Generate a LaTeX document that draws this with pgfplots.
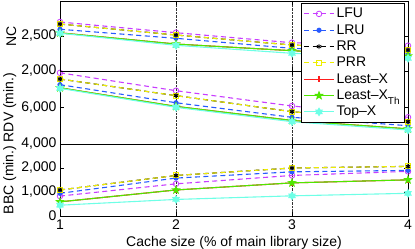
\documentclass[border=0pt]{standalone}
\usepackage{pgfplots}
\pgfplotsset{compat=1.18}
\usepackage{fontspec}
\setmainfont{Liberation Sans}
\definecolor{cLFU}{RGB}{200,60,255}
\definecolor{cLRU}{RGB}{40,90,255}
\definecolor{cPRR}{RGB}{238,238,0}
\definecolor{cLX}{RGB}{255,30,30}
\definecolor{cLXT}{RGB}{80,230,0}
\definecolor{cTX}{RGB}{110,255,230}
\pgfdeclareplotmark{fstar}{%
 \pgfpathmoveto{\pgfpointpolar{90}{\pgfplotmarksize}}%
 \pgfpathlineto{\pgfpointpolar{126}{0.42\pgfplotmarksize}}%
 \pgfpathlineto{\pgfpointpolar{162}{\pgfplotmarksize}}%
 \pgfpathlineto{\pgfpointpolar{198}{0.42\pgfplotmarksize}}%
 \pgfpathlineto{\pgfpointpolar{234}{\pgfplotmarksize}}%
 \pgfpathlineto{\pgfpointpolar{270}{0.42\pgfplotmarksize}}%
 \pgfpathlineto{\pgfpointpolar{306}{\pgfplotmarksize}}%
 \pgfpathlineto{\pgfpointpolar{342}{0.42\pgfplotmarksize}}%
 \pgfpathlineto{\pgfpointpolar{18}{\pgfplotmarksize}}%
 \pgfpathlineto{\pgfpointpolar{54}{0.42\pgfplotmarksize}}%
 \pgfpathclose\pgfusepathqfillstroke}
\pgfdeclareplotmark{fhex}{%
 \pgfpathmoveto{\pgfpointpolar{90}{\pgfplotmarksize}}%
 \pgfpathlineto{\pgfpointpolar{120}{0.58\pgfplotmarksize}}%
 \pgfpathlineto{\pgfpointpolar{150}{\pgfplotmarksize}}%
 \pgfpathlineto{\pgfpointpolar{180}{0.58\pgfplotmarksize}}%
 \pgfpathlineto{\pgfpointpolar{210}{\pgfplotmarksize}}%
 \pgfpathlineto{\pgfpointpolar{240}{0.58\pgfplotmarksize}}%
 \pgfpathlineto{\pgfpointpolar{270}{\pgfplotmarksize}}%
 \pgfpathlineto{\pgfpointpolar{300}{0.58\pgfplotmarksize}}%
 \pgfpathlineto{\pgfpointpolar{330}{\pgfplotmarksize}}%
 \pgfpathlineto{\pgfpointpolar{0}{0.58\pgfplotmarksize}}%
 \pgfpathlineto{\pgfpointpolar{30}{\pgfplotmarksize}}%
 \pgfpathlineto{\pgfpointpolar{60}{0.58\pgfplotmarksize}}%
 \pgfpathclose\pgfusepathqfillstroke}
\pgfplotsset{
  panel/.style={
    width=348pt, scale only axis, xmin=1, xmax=4, xtick={1,2,3,4},
    clip=false,
    font=\fontsize{14}{16}\selectfont,
    xmajorgrids, major grid style={densely dotted, black!80, line width=0.5pt},
    axis line style={line width=0.9pt},
    tick style={black, line width=0.6pt}, major tick length=4pt,
    /pgf/number format/assume math mode=true,
    /pgf/number format/1000 sep={,},
    scaled y ticks=false,
    ylabel style={at={(axis description cs:-0.125,0.5)}, anchor=south, inner sep=0pt},
    legend image code/.code={\draw[mark repeat=2,mark phase=2,##1] plot coordinates {(0pt,0pt) (15pt,0pt) (30pt,0pt)};},
  },
  dsh/.style={line width=1.1pt, dash pattern=on 5pt off 3.5pt},
  sld/.style={line width=1.1pt, solid},
  pLFU/.style={dsh, color=cLFU, mark=o, mark size=2.8pt, mark options={solid, line width=0.8pt}},
  pLRU/.style={dsh, color=cLRU, mark=*, mark size=2pt, mark options={solid}},
  pRR/.style={dsh, color=black, mark=asterisk, mark size=2.5pt, mark options={solid, line width=0.8pt}},
  pPRR/.style={dsh, color=cPRR, mark=square, mark size=2.5pt, mark options={solid, line width=1pt}},
  pLX/.style={sld, color=cLX, mark=+, mark size=3pt},
  pLXT/.style={sld, color=cLXT, mark=fstar, mark size=3.5pt},
  pTX/.style={sld, color=cTX, mark=fhex, mark size=3.5pt},
}
\begin{document}
\begin{tikzpicture}
\path[use as bounding box] (-60pt,-33pt) rectangle (355pt,216pt);
% BBC panel
\begin{axis}[panel, at={(0pt,0pt)}, height=72pt, ymin=0, ymax=3000, ytick={0,1000,2000},
  xlabel={Cache size (\% of main library size)}, ylabel={BBC (min.)}]
\addplot[pLFU] coordinates {(1,830) (2,1340) (3,1690) (4,1860)};
\addplot[pLRU] coordinates {(1,945) (2,1580) (3,1840) (4,1900)};
\addplot[pRR] coordinates {(1,1085) (2,1690) (3,2000) (4,2068)};
\addplot[pPRR] coordinates {(1,1085) (2,1690) (3,2000) (4,2068)};
\addplot[pRR, only marks] coordinates {(1,1085) (2,1690) (3,2000) (4,2068)};
\addplot[pLX] coordinates {(1,590) (2,1085) (3,1380) (4,1506)};
\addplot[pLXT] coordinates {(1,590) (2,1085) (3,1380) (4,1506)};
\addplot[pTX] coordinates {(1,450) (2,690) (3,840) (4,945)};
\end{axis}
% RDV panel
\begin{axis}[panel, at={(0pt,72pt)}, height=73pt, ymin=4000, ymax=8000, ytick={4000,6000},
  xticklabels={}, ylabel={RDV (min.)}]
\addplot[pLFU] coordinates {(1,7900) (2,6920) (3,6083) (4,5463)};
\addplot[pLRU] coordinates {(1,7250) (2,6260) (3,5463) (4,5003)};
\addplot[pRR] coordinates {(1,7560) (2,6650) (3,5770) (4,5222)};
\addplot[pPRR] coordinates {(1,7560) (2,6650) (3,5770) (4,5222)};
\addplot[pRR, only marks] coordinates {(1,7560) (2,6650) (3,5770) (4,5222)};
\addplot[pLX] coordinates {(1,7080) (2,6060) (3,5290) (4,4830)};
\addplot[pLXT] coordinates {(1,7080) (2,6060) (3,5290) (4,4830)};
\addplot[pTX] coordinates {(1,7050) (2,6010) (3,5222) (4,4767)};
\end{axis}
% NC panel
\begin{axis}[panel, at={(0pt,145pt)}, height=70pt, ymin=2000, ymax=3000, ytick={2000,2500},
  xticklabels={}, ylabel={NC},
  legend cell align=left,
  legend style={at={(rel axis cs:0.99,0.965)}, anchor=north east, draw=black, line width=0.8pt,
    font=\fontsize{14}{16}\selectfont, row sep=1.2pt, inner sep=2.5pt,
    /tikz/every even column/.append style={column sep=3pt}}]
\addplot[pLFU] coordinates {(1,2700) (2,2547) (3,2404) (4,2361)};
\addlegendentry{LFU}
\addplot[pLRU] coordinates {(1,2596) (2,2467) (3,2324) (4,2253)};
\addlegendentry{LRU}
\addplot[pRR] coordinates {(1,2671) (2,2514) (3,2371) (4,2300)};
\addlegendentry{RR}
\addplot[pPRR] coordinates {(1,2671) (2,2514) (3,2371) (4,2300)};
\addlegendentry{PRR}
\addplot[pLX] coordinates {(1,2545) (2,2385) (3,2290) (4,2214)};
\addlegendentry{Least\textendash X}
\addplot[pLXT] coordinates {(1,2545) (2,2385) (3,2290) (4,2214)};
\addlegendentry{Least\textendash X\raisebox{-0.6ex}{\fontsize{10}{10}\selectfont Th}}
\addplot[pTX] coordinates {(1,2539) (2,2367) (3,2253) (4,2181)};
\addlegendentry{Top\textendash X}
\addplot[pRR, only marks, forget plot] coordinates {(1,2671) (2,2514) (3,2371) (4,2300)};
\end{axis}
\end{tikzpicture}
\end{document}
